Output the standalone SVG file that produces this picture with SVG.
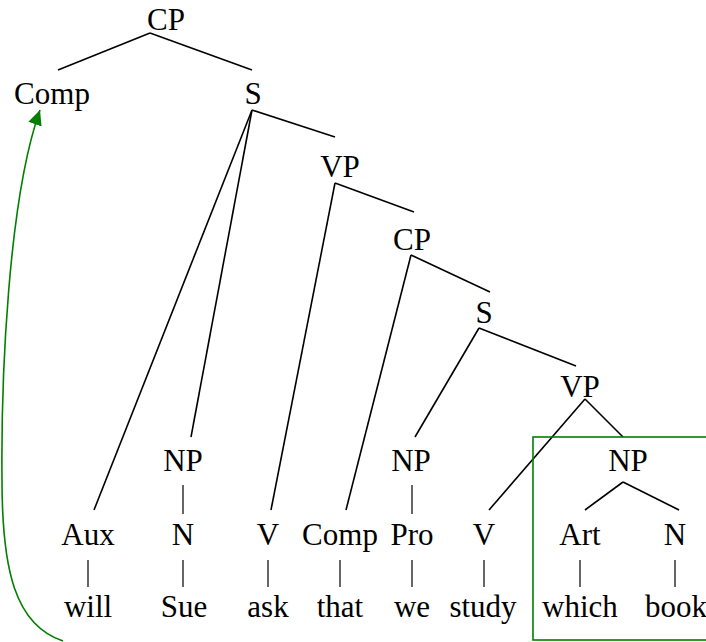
<svg xmlns="http://www.w3.org/2000/svg" width="706" height="642" viewBox="0 0 706 642">
<style>
text{font-family:"Liberation Serif","Times New Roman",serif;font-size:31px;fill:#000;text-anchor:middle}
.e{stroke:#000;stroke-width:1.6;fill:none}
.b{stroke:#000;stroke-width:1.2;fill:none}
.g{stroke:#008000;stroke-width:1.6;fill:none}
</style>
<defs>
<marker id="ah" markerUnits="userSpaceOnUse" markerWidth="16" markerHeight="16" refX="15" refY="7" orient="auto">
<path d="M0,0 L15,7 L0,14 z" fill="#008000"/>
</marker>
</defs>
<rect width="706" height="642" fill="#fff"/>
<g id="connectors">
<line class="e" x1="150" y1="33" x2="58" y2="70"/>
<line class="e" x1="150" y1="33" x2="252" y2="70"/>
<line class="e" x1="252" y1="110" x2="335" y2="137"/>
<line class="e" x1="252" y1="110" x2="94" y2="510"/>
<line class="e" x1="252" y1="110" x2="191" y2="437"/>
<line class="e" x1="335" y1="183" x2="414" y2="212"/>
<line class="e" x1="335" y1="183" x2="271" y2="510"/>
<line class="e" x1="411" y1="255" x2="490" y2="292"/>
<line class="e" x1="411" y1="255" x2="346" y2="510"/>
<line class="e" x1="479" y1="328" x2="576" y2="366"/>
<line class="e" x1="479" y1="328" x2="415" y2="437"/>
<line class="e" x1="585" y1="399" x2="623" y2="437"/>
<line class="e" x1="585" y1="399" x2="489" y2="510"/>
<line class="e" x1="623" y1="482" x2="585" y2="510"/>
<line class="e" x1="623" y1="482" x2="679" y2="510"/>
<line class="b" x1="183" y1="485" x2="183" y2="514"/>
<line class="b" x1="412" y1="485" x2="412" y2="514"/>
<line class="b" x1="88" y1="560" x2="88" y2="587"/>
<line class="b" x1="183" y1="560" x2="183" y2="587"/>
<line class="b" x1="268" y1="560" x2="268" y2="587"/>
<line class="b" x1="340" y1="560" x2="340" y2="587"/>
<line class="b" x1="412" y1="560" x2="412" y2="587"/>
<line class="b" x1="484" y1="560" x2="484" y2="587"/>
<line class="b" x1="580" y1="560" x2="580" y2="587"/>
<line class="b" x1="675" y1="560" x2="675" y2="587"/>
<path class="g" d="M63,641 C15,625 2,570 2,480 C1,380 8,200 40,110" marker-end="url(#ah)"/>
</g>
<rect id="highlight" class="g" x="533" y="437" width="200" height="203"/>
<g id="cp1"><text x="166" y="30">CP</text></g>
<g id="comp1"><text x="52" y="104">Comp</text></g>
<g id="s1"><text x="253" y="104">S</text></g>
<g id="vp1"><text x="340" y="177">VP</text></g>
<g id="cp2"><text x="412" y="250">CP</text></g>
<g id="s2"><text x="484" y="323">S</text></g>
<g id="vp2"><text x="580" y="397">VP</text></g>
<g id="np1"><text x="183" y="471">NP</text></g>
<g id="np2"><text x="411" y="471">NP</text></g>
<g id="np3"><text x="628" y="471">NP</text></g>
<g id="aux"><text x="88" y="545">Aux</text></g>
<g id="n1"><text x="183" y="545">N</text></g>
<g id="v1"><text x="268" y="545">V</text></g>
<g id="comp2"><text x="340" y="545">Comp</text></g>
<g id="pro"><text x="412" y="545">Pro</text></g>
<g id="v2"><text x="484" y="545">V</text></g>
<g id="art"><text x="580" y="545">Art</text></g>
<g id="n2"><text x="675" y="545">N</text></g>
<g id="will"><text x="88" y="617">will</text></g>
<g id="sue"><text x="184" y="617">Sue</text></g>
<g id="ask"><text x="268" y="617">ask</text></g>
<g id="that"><text x="340" y="617">that</text></g>
<g id="we"><text x="412" y="617">we</text></g>
<g id="study"><text x="483" y="617">study</text></g>
<g id="which"><text x="580" y="617">which</text></g>
<g id="book"><text x="676" y="617">book</text></g>
</svg>
